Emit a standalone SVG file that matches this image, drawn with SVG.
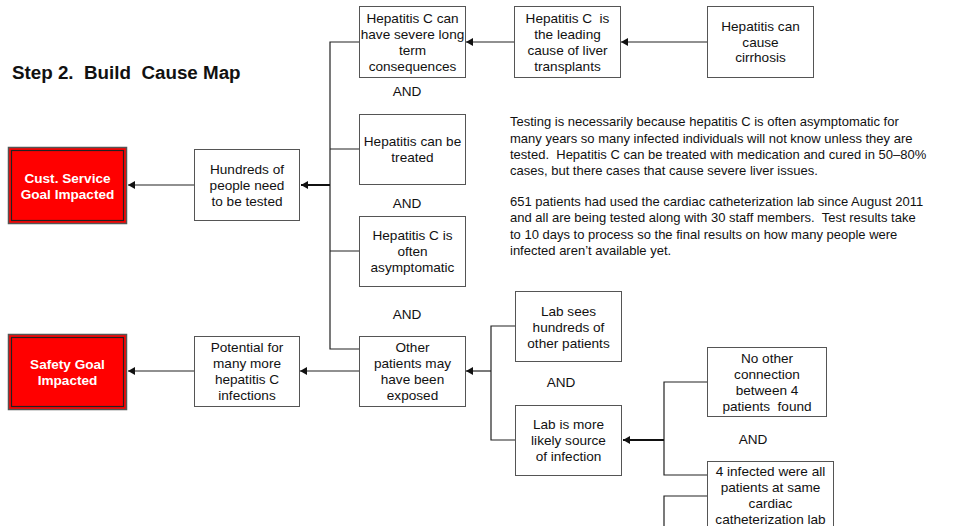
<svg xmlns="http://www.w3.org/2000/svg" width="956" height="526" viewBox="0 0 956 526">
<defs>
<style>
text{white-space:pre}
.box{fill:#fff;stroke:#555;stroke-width:1}
.t{font-family:"Liberation Sans",Arial,sans-serif;font-size:13.6px;fill:#111;text-anchor:middle}
.w{font-family:"Liberation Sans",Arial,sans-serif;font-size:13.6px;font-weight:bold;fill:#fff;text-anchor:middle}
.p{font-family:"Liberation Sans",Arial,sans-serif;font-size:13px;fill:#111}
.ln{fill:none;stroke:#222;stroke-width:1.2}
.thick{fill:none;stroke:#111;stroke-width:2}
.red{fill:#f00;stroke:#555;stroke-width:1.5}
.redin{fill:none;stroke:#222;stroke-width:1.2}
</style>
<marker id="ah" markerWidth="8" markerHeight="8" refX="7" refY="4" orient="auto" markerUnits="userSpaceOnUse">
<path d="M0,0 L7,4 L0,8 Z" fill="#111"/>
</marker>
</defs>
<rect width="956" height="526" fill="#fff"/>
<text x="12" y="79" font-family="Liberation Sans,Arial,sans-serif" font-size="18.8" font-weight="bold" fill="#111" xml:space="preserve">Step 2.  Build  Cause Map</text>

<g id="connectors">
<path class="ln" d="M359,42 H330 V349 H359 M330,149 H359 M330,251 H359"/>
<path class="thick" d="M330,185 H301" marker-end="url(#ah)"/>
<path class="ln" d="M194,185 H128" marker-end="url(#ah)"/>
<path class="ln" d="M514,42 H466" marker-end="url(#ah)"/>
<path class="ln" d="M707,42 H621" marker-end="url(#ah)"/>
<path class="ln" d="M359,371 H300" marker-end="url(#ah)"/>
<path class="ln" d="M194,371 H128" marker-end="url(#ah)"/>
<path class="ln" d="M515,326 H491 V440 H515"/>
<path class="ln" d="M491,371 H466" marker-end="url(#ah)"/>
<path class="ln" d="M707,382 H664 V475 H707 M707,496 H664 V526"/>
<path class="thick" d="M664,440 H623" marker-end="url(#ah)"/>
</g>

<g id="n-cust">
<rect class="red" x="8.5" y="147.5" width="118" height="76"/>
<rect class="redin" x="11.5" y="150.5" width="112" height="70"/>
<text class="w" x="67.5" y="182.5">Cust. Service</text>
<text class="w" x="67.5" y="198.5">Goal Impacted</text>
</g>
<g id="n-safety">
<rect class="red" x="8.5" y="334.5" width="118" height="75"/>
<rect class="redin" x="11.5" y="337.5" width="112" height="69"/>
<text class="w" x="67.5" y="368.5">Safety Goal</text>
<text class="w" x="67.5" y="384.5">Impacted</text>
</g>
<g id="n-hundreds">
<rect class="box" x="194.5" y="149.5" width="105" height="71"/>
<text class="t" x="247" y="173.5">Hundreds of</text>
<text class="t" x="247" y="189.5">people need</text>
<text class="t" x="247" y="205.5">to be tested</text>
</g>
<g id="n-potential">
<rect class="box" x="194.5" y="336.5" width="105" height="70"/>
<text class="t" x="247" y="351.5">Potential for</text>
<text class="t" x="247" y="367.5">many more</text>
<text class="t" x="247" y="383.5">hepatitis C</text>
<text class="t" x="247" y="399.5">infections</text>
</g>
<g id="n-severe">
<rect class="box" x="359.5" y="6.5" width="106" height="71"/>
<text class="t" x="412.5" y="22.5">Hepatitis C can</text>
<text class="t" x="412.5" y="38.5">have severe long</text>
<text class="t" x="412.5" y="54.5">term</text>
<text class="t" x="412.5" y="70.5">consequences</text>
</g>
<text class="t" x="407" y="95.5">AND</text>
<g id="n-treated">
<rect class="box" x="359.5" y="114.5" width="106" height="70"/>
<text class="t" x="412.5" y="145.5">Hepatitis can be</text>
<text class="t" x="412.5" y="161.5">treated</text>
</g>
<text class="t" x="407" y="207.5">AND</text>
<g id="n-asym">
<rect class="box" x="359.5" y="216.5" width="106" height="70"/>
<text class="t" x="412.5" y="239.5">Hepatitis C is</text>
<text class="t" x="412.5" y="255.5">often</text>
<text class="t" x="412.5" y="271.5">asymptomatic</text>
</g>
<text class="t" x="407" y="318.5">AND</text>
<g id="n-other">
<rect class="box" x="359.5" y="336.5" width="106" height="70"/>
<text class="t" x="412.5" y="351.5">Other</text>
<text class="t" x="412.5" y="367.5">patients may</text>
<text class="t" x="412.5" y="383.5">have been</text>
<text class="t" x="412.5" y="399.5">exposed</text>
</g>
<g id="n-leading">
<rect class="box" x="514.5" y="6.5" width="106" height="71"/>
<text class="t" x="567.5" y="22.5" xml:space="preserve">Hepatitis C  is</text>
<text class="t" x="567.5" y="38.5">the leading</text>
<text class="t" x="567.5" y="54.5">cause of liver</text>
<text class="t" x="567.5" y="70.5">transplants</text>
</g>
<g id="n-cirrhosis">
<rect class="box" x="707.5" y="6.5" width="106" height="71"/>
<text class="t" x="760.5" y="30.5">Hepatitis can</text>
<text class="t" x="760.5" y="46.5">cause</text>
<text class="t" x="760.5" y="62">cirrhosis</text>
</g>
<g id="notes">
<text class="p" x="510" y="126">Testing is necessarily because hepatitis C is often asymptomatic for</text>
<text class="p" x="510" y="143">many years so many infected individuals will not know unless they are</text>
<text class="p" x="510" y="159" xml:space="preserve">tested.  Hepatitis C can be treated with medication and cured in 50–80%</text>
<text class="p" x="510" y="175">cases, but there cases that cause severe liver issues.</text>
<text class="p" x="510" y="206">651 patients had used the cardiac catheterization lab since August 2011</text>
<text class="p" x="510" y="222" xml:space="preserve">and all are being tested along with 30 staff members.  Test results take</text>
<text class="p" x="510" y="238.5">to 10 days to process so the final results on how many people were</text>
<text class="p" x="510" y="254.5">infected aren’t available yet.</text>
</g>
<g id="n-labsees">
<rect class="box" x="515.5" y="291.5" width="106" height="70"/>
<text class="t" x="568.5" y="315.5">Lab sees</text>
<text class="t" x="568.5" y="331.5">hundreds of</text>
<text class="t" x="568.5" y="347.5">other patients</text>
</g>
<text class="t" x="561" y="386.5">AND</text>
<g id="n-labsource">
<rect class="box" x="515.5" y="405.5" width="106" height="70"/>
<text class="t" x="568.5" y="428.5">Lab is more</text>
<text class="t" x="568.5" y="444.5">likely source</text>
<text class="t" x="568.5" y="460.5">of infection</text>
</g>
<g id="n-noother">
<rect class="box" x="707.5" y="347.5" width="119" height="69"/>
<text class="t" x="767" y="362.5">No other</text>
<text class="t" x="767" y="378.5">connection</text>
<text class="t" x="767" y="394.5">between 4</text>
<text class="t" x="767" y="410.5" xml:space="preserve">patients  found</text>
</g>
<text class="t" x="753" y="443.5">AND</text>
<g id="n-infected">
<rect class="box" x="707.5" y="461.5" width="126" height="80"/>
<text class="t" x="770.5" y="475.5">4 infected were all</text>
<text class="t" x="770.5" y="491.5">patients at same</text>
<text class="t" x="770.5" y="507.5">cardiac</text>
<text class="t" x="770.5" y="523.5">catheterization lab</text>
</g>
</svg>
